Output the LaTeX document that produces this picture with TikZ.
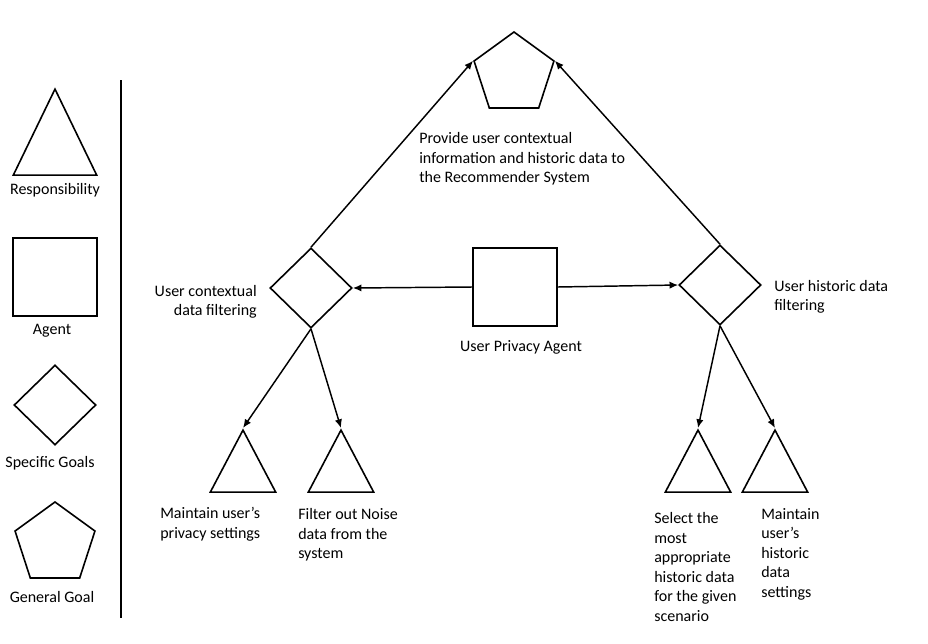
\documentclass[tikz,border=0pt]{standalone}
\usepackage{fontspec}
\setmainfont{Carlito}
\usepackage{tikz}
\usetikzlibrary{shapes,arrows.meta,positioning}

\begin{document}
\begin{tikzpicture}[x=0.75pt, y=-0.75pt,
        every node/.style={font=\fontsize{12}{14.6}\selectfont, inner sep=0pt},
        resp/.style={draw, line width=1.2pt, isosceles triangle, shape border rotate=90, isosceles triangle stretches, minimum width=49pt, minimum height=46.5pt, anchor=apex},
        agentbox/.style={draw, line width=1.2pt, rectangle, minimum width=63pt, minimum height=58.5pt},
        specgoal/.style={draw, line width=1.2pt, diamond, aspect=1, minimum width=61.5pt, minimum height=60pt},
        gengoal/.style={draw, line width=1.2pt, regular polygon, regular polygon sides=5, minimum size=63pt},
        lbl/.style={align=left, anchor=west},
        arrow/.style={-{Latex[length=6.5pt, width=5.5pt]}, line width=1.1pt}
    ]
        \useasboundingbox (0,0) rectangle (928,643);

        % Legend
        \node[resp, minimum width=62.5pt, minimum height=64.5pt] (lresp) at (55,87) {};
        \node (lresptxt) at (55,190) {Responsibility};
        \node[agentbox] (lagent) at (55,277) {};
        \node (lagenttxt) at (52,331) {Agent};
        \node[specgoal] (lspec) at (55,405) {};
        \node (lspectxt) at (50,463) {Specific Goals};
        \node[gengoal] (lgen) at (55,544) {};
        \node (lgentxt) at (52,597) {General Goal};
        \draw[line width=1.1pt] (121,80) -- (121,618);

        % Goals and agent
        \node[gengoal] (goal) at (514,74) {};
        \node[lbl] (goaltxt) at (419,159) {Provide user contextual\\information and historic data to\\the Recommender System};
        \node[specgoal] (cfilter) at (311,288) {};
        \node[align=right, anchor=east] (cfiltertxt) at (257,302) {User contextual\\data filtering};
        \node[specgoal] (hfilter) at (720,285) {};
        \node[lbl] (hfiltertxt) at (774,297) {User historic data\\filtering};
        \node[agentbox] (agent) at (515,287) {};
        \node (agenttxt) at (521,347) {User Privacy Agent};

        % Responsibilities
        \node[resp] (privacy) at (243,428) {};
        \node[lbl] (privacytxt) at (160,524) {Maintain user’s\\privacy settings};
        \node[resp] (noise) at (341,428) {};
        \node[lbl] (noisetxt) at (298,535) {Filter out Noise\\data from the\\system};
        \node[resp] (select) at (698,428) {};
        \node[lbl] (selecttxt) at (654,567) {Select the\\most\\appropriate\\historic data\\for the given\\scenario};
        \node[resp] (settings) at (775,428) {};
        \node[lbl] (settingstxt) at (761,554) {Maintain\\user’s\\historic\\data\\settings};

        % Arrows
        \draw[arrow] (cfilter.north) -- (goal.corner 2);
        \draw[arrow] (hfilter.north) -- (goal.corner 5);
        \draw[arrow] (agent.west) -- (cfilter.east);
        \draw[arrow] (agent.east) -- (hfilter.west);
        \draw[arrow] (cfilter.south) -- (privacy.apex);
        \draw[arrow] (cfilter.south) -- (noise.apex);
        \draw[arrow] (hfilter.south) -- (select.apex);
        \draw[arrow] (hfilter.south) -- (settings.apex);

    \end{tikzpicture}
\end{document}
